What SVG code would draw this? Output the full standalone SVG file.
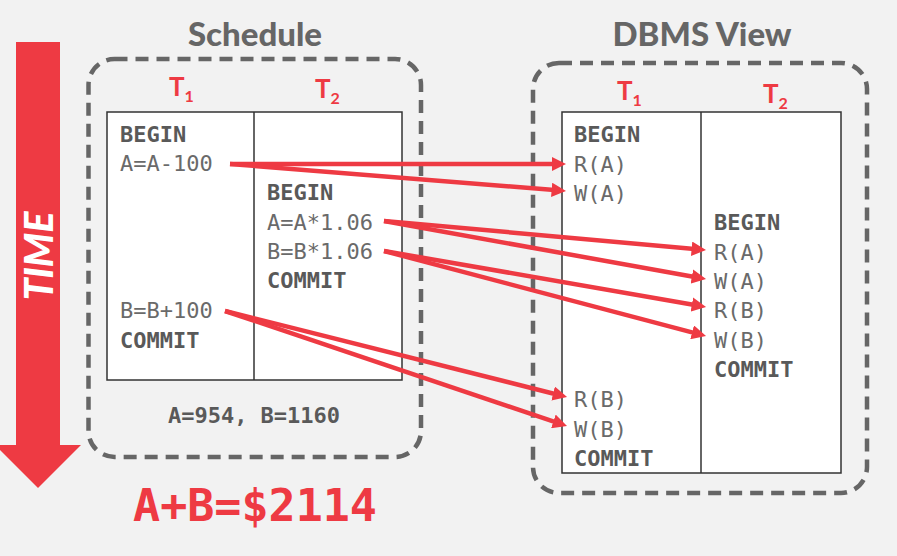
<svg xmlns="http://www.w3.org/2000/svg" width="897" height="556" viewBox="0 0 897 556">
<defs>
<style>
.title{font-family:Lato,"Open Sans",sans-serif;font-weight:900;font-size:33px;fill:#666;text-anchor:middle}
.tl{font-family:Lato,"Open Sans",sans-serif;font-weight:bold;font-size:26px;fill:#ee3a43}
.sub{font-size:16px}
.code{font-family:"DejaVu Sans Mono","Liberation Mono",monospace;font-size:22px;fill:#6a6a6a}
.kw{font-family:"DejaVu Sans Mono","Liberation Mono",monospace;font-size:22px;font-weight:bold;fill:#595959}
.dash{fill:none;stroke:#666;stroke-width:4.5;stroke-dasharray:13 8}
.tbl{fill:#fff;stroke:#333;stroke-width:1.5}
.div{stroke:#333;stroke-width:1.5}
.arr{stroke:#ee3a43;stroke-width:4.5;fill:none;marker-end:url(#ah)}
</style>
<marker id="ah" viewBox="0 0 10 10" refX="2" refY="5" markerWidth="3.2" markerHeight="3.2" orient="auto" markerUnits="strokeWidth">
<path d="M0,0 L10,5 L0,10 z" fill="#ee3a43"/>
</marker>
</defs>
<rect width="897" height="556" fill="#f2f2f2"/>

<g id="time-arrow">
<polygon points="16,42 60,42 60,445 81,445 38,488 -5,445 16,445" fill="#ee3a43"/>
<text transform="translate(53,256) rotate(-90)" font-family="Lato,'Open Sans',sans-serif" font-weight="900" font-style="italic" font-size="39" fill="#fff" text-anchor="middle">TIME</text>
</g>

<g id="schedule">
<text class="title" x="255" y="46">Schedule</text>
<rect class="dash" x="88.5" y="59" width="332.5" height="398" rx="26"/>
<text class="tl" x="169" y="96">T<tspan class="sub" dy="6">1</tspan></text>
<text class="tl" x="315" y="98">T<tspan class="sub" dy="6">2</tspan></text>
<rect class="tbl" x="107" y="112" width="295" height="268"/>
<line class="div" x1="254" y1="112" x2="254" y2="380"/>
<text class="kw" x="120" y="142">BEGIN</text>
<text class="code" x="120" y="171">A=A-100</text>
<text class="kw" x="267" y="200">BEGIN</text>
<text class="code" x="267" y="230">A=A*1.06</text>
<text class="code" x="267" y="259">B=B*1.06</text>
<text class="kw" x="267" y="288">COMMIT</text>
<text class="code" x="120" y="318">B=B+100</text>
<text class="kw" x="120" y="348">COMMIT</text>
<text class="kw" x="254" y="423" text-anchor="middle">A=954, B=1160</text>
</g>

<g id="sum">
<text x="255" y="521" text-anchor="middle" font-family="'DejaVu Sans Mono','Liberation Mono',monospace" font-weight="bold" font-size="45" fill="#ee3a43">A+B=$2114</text>
</g>

<g id="dbms-view">
<text class="title" x="702" y="46">DBMS View</text>
<rect class="dash" x="533" y="63" width="334" height="430" rx="26"/>
<text class="tl" x="617" y="100">T<tspan class="sub" dy="6">1</tspan></text>
<text class="tl" x="763" y="103">T<tspan class="sub" dy="6">2</tspan></text>
<rect class="tbl" x="562" y="112" width="279" height="361"/>
<line class="div" x1="701" y1="112" x2="701" y2="473"/>
<text class="kw" x="574" y="142">BEGIN</text>
<text class="code" x="574" y="172">R(A)</text>
<text class="code" x="574" y="201">W(A)</text>
<text class="kw" x="714" y="230">BEGIN</text>
<text class="code" x="714" y="260">R(A)</text>
<text class="code" x="714" y="289">W(A)</text>
<text class="code" x="714" y="318">R(B)</text>
<text class="code" x="714" y="348">W(B)</text>
<text class="kw" x="714" y="377">COMMIT</text>
<text class="code" x="574" y="407">R(B)</text>
<text class="code" x="574" y="437">W(B)</text>
<text class="kw" x="574" y="466">COMMIT</text>
</g>

<g id="connectors">
<line class="arr" x1="230" y1="164" x2="554.5" y2="164"/>
<line class="arr" x1="230" y1="164" x2="554.5" y2="190.1"/>
<line class="arr" x1="384" y1="221" x2="694.5" y2="249"/>
<line class="arr" x1="384" y1="221" x2="694.7" y2="277"/>
<line class="arr" x1="384" y1="251" x2="694.7" y2="305"/>
<line class="arr" x1="384" y1="251" x2="694.9" y2="333.1"/>
<line class="arr" x1="225" y1="311" x2="555.9" y2="394.2"/>
<line class="arr" x1="225" y1="311" x2="556.1" y2="422.3"/>
</g>
</svg>
